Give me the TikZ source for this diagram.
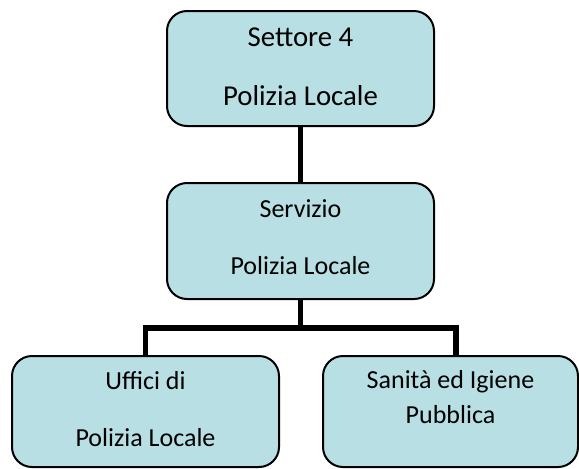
\documentclass[tikz,border=0pt]{standalone}
\usepackage{fontspec}
\setmainfont{Carlito}
\usepackage{xcolor}
\usetikzlibrary{positioning,calc}
\definecolor{boxfill}{HTML}{B8DFE4}
\tikzset{%
	office/.style = {draw, line width=1pt, fill=boxfill, rectangle, rounded corners=10pt, minimum width=133.5pt, minimum height=55.5pt, align=center, inner sep=0pt, font={\fontsize{13}{28.5}\selectfont}},
	link/.style   = {line width=2.6pt},
}

\begin{document}
\begin{tikzpicture}[x=0.5pt,y=-0.5pt]
		\useasboundingbox (0,0) rectangle (579,468);
		\node[office, minimum height=57.5pt, text depth=2pt, font={\fontsize{14.4}{29.5}\selectfont}] (settore) at (300.5,68.5) {Settore 4\\Polizia Locale};
		\node[office, minimum height=58pt, text depth=4pt] (servizio) at (300.5,241) {Servizio\\Polizia Locale};
		\node[office, text depth=3pt] (uffici) at (145.5,411.5) {Uffici di\\Polizia Locale};
		\node[office, minimum width=127.5pt, text depth=15pt] (sanita) at (450.5,411.5) {Sanità ed Igiene\\[-11pt]Pubblica};
		\coordinate (bar) at (300.5,328);
		
		\draw[link] (settore) -- (servizio);
		\draw[link] (servizio) -- (bar);
		\draw[link] (bar) -| (uffici);
		\draw[link] (bar) -| ([xshift=2.75pt]sanita.north);
\end{tikzpicture}
\end{document}
